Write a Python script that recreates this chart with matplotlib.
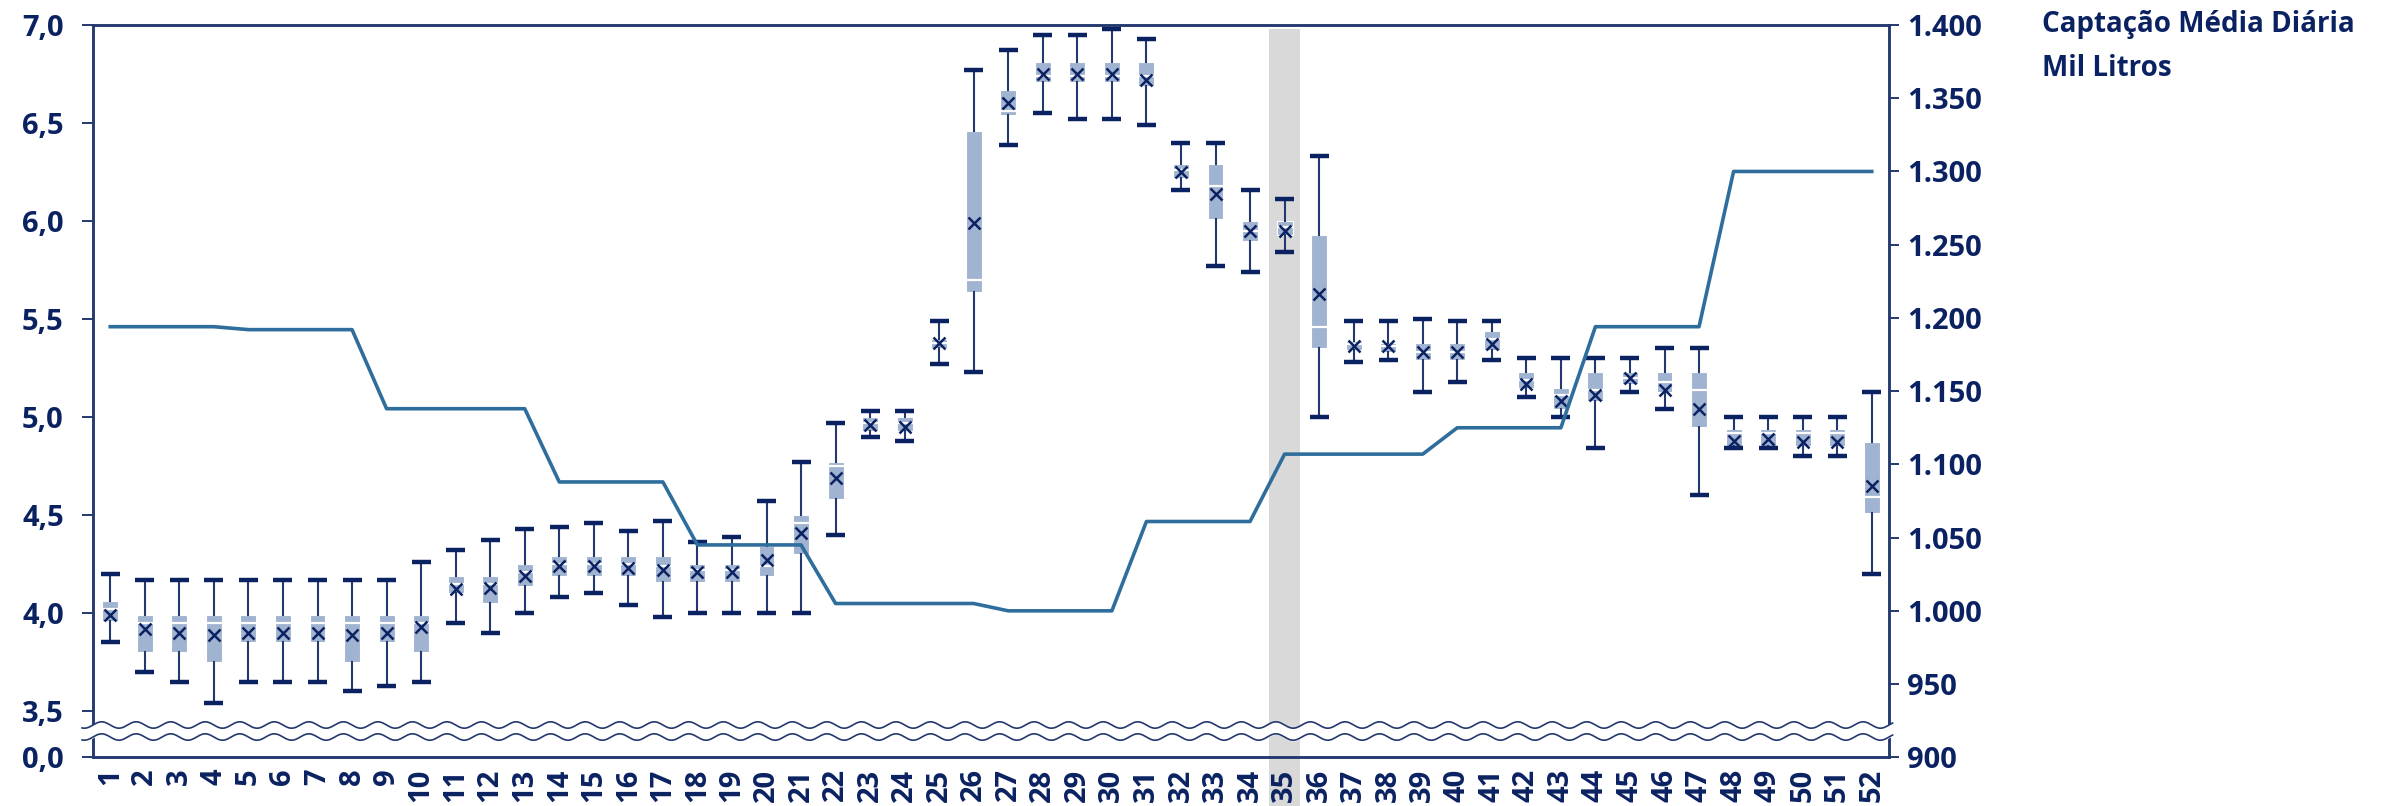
import matplotlib.pyplot as plt
from matplotlib.patches import Rectangle
from matplotlib.transforms import blended_transform_factory
import numpy as np

plt.rcParams['font.family'] = ['Open Sans', 'DejaVu Sans']

# semanas
semanas = list(range(1, 53))

# estatisticas das caixas (valores do eixo esquerdo)
minimo = [3.85, 3.70, 3.65, 3.54, 3.65, 3.65, 3.65, 3.60, 3.63, 3.65,
          3.95, 3.90, 4.00, 4.08, 4.10, 4.04, 3.98, 4.00, 4.00, 4.00,
          4.00, 4.40, 4.90, 4.88, 5.27, 5.23, 6.39, 6.55, 6.52, 6.52,
          6.49, 6.16, 5.77, 5.74, 5.84, 5.00, 5.28, 5.29, 5.13, 5.18,
          5.29, 5.10, 5.00, 4.84, 5.13, 5.04, 4.60, 4.84, 4.84, 4.80,
          4.80, 4.20]
quartil1 = [3.96, 3.80, 3.80, 3.75, 3.85, 3.85, 3.85, 3.75, 3.85, 3.80,
            4.10, 4.05, 4.14, 4.19, 4.19, 4.19, 4.16, 4.16, 4.16, 4.19,
            4.30, 4.58, 4.93, 4.93, 5.35, 5.64, 6.54, 6.71, 6.71, 6.71,
            6.69, 6.22, 6.01, 5.90, 5.93, 5.35, 5.34, 5.33, 5.29, 5.29,
            5.34, 5.15, 5.04, 5.08, 5.17, 5.13, 4.95, 4.85, 4.85, 4.85,
            4.85, 4.51]
mediana = [4.02, 3.95, 3.95, 3.95, 3.95, 3.95, 3.95, 3.95, 3.95, 3.95,
           4.15, 4.15, 4.21, 4.25, 4.25, 4.25, 4.24, 4.22, 4.22, 4.24,
           4.46, 4.75, 4.97, 4.97, 5.38, 5.70, 6.56, 6.74, 6.74, 6.74,
           6.74, 6.26, 6.18, 5.95, 5.97, 5.46, 5.37, 5.36, 5.33, 5.33,
           5.40, 5.19, 5.11, 5.14, 5.20, 5.18, 5.14, 4.92, 4.92, 4.92,
           4.92, 4.59]
quartil3 = [4.06, 3.99, 3.99, 3.99, 3.99, 3.99, 3.99, 3.99, 3.99, 3.99,
            4.19, 4.19, 4.25, 4.29, 4.29, 4.29, 4.29, 4.25, 4.25, 4.34,
            4.50, 4.77, 5.00, 5.00, 5.40, 6.46, 6.67, 6.81, 6.81, 6.81,
            6.81, 6.29, 6.29, 6.00, 6.00, 5.93, 5.39, 5.38, 5.38, 5.38,
            5.44, 5.23, 5.15, 5.23, 5.23, 5.23, 5.23, 4.94, 4.94, 4.94,
            4.94, 4.87]
maximo = [4.20, 4.17, 4.17, 4.17, 4.17, 4.17, 4.17, 4.17, 4.17, 4.26,
          4.32, 4.37, 4.43, 4.44, 4.46, 4.42, 4.47, 4.36, 4.39, 4.57,
          4.77, 4.97, 5.03, 5.03, 5.49, 6.77, 6.87, 6.95, 6.95, 6.98,
          6.93, 6.40, 6.40, 6.16, 6.11, 6.33, 5.49, 5.49, 5.50, 5.49,
          5.49, 5.30, 5.30, 5.30, 5.30, 5.35, 5.35, 5.00, 5.00, 5.00,
          5.00, 5.13]
media = [3.99, 3.92, 3.90, 3.89, 3.90, 3.90, 3.90, 3.89, 3.90, 3.93,
         4.12, 4.13, 4.19, 4.24, 4.24, 4.23, 4.22, 4.21, 4.21, 4.27,
         4.41, 4.69, 4.96, 4.95, 5.38, 5.99, 6.60, 6.75, 6.75, 6.75,
         6.72, 6.25, 6.14, 5.95, 5.95, 5.63, 5.36, 5.36, 5.33, 5.33,
         5.37, 5.17, 5.08, 5.11, 5.20, 5.14, 5.04, 4.88, 4.89, 4.87,
         4.87, 4.65]

# captacao media diaria (mil litros, eixo direito)
captacao = [1194, 1194, 1194, 1194, 1192, 1192, 1192, 1192, 1138, 1138,
            1138, 1138, 1138, 1088, 1088, 1088, 1088, 1045, 1045, 1045,
            1045, 1005, 1005, 1005, 1005, 1005, 1000, 1000, 1000, 1000,
            1061, 1061, 1061, 1061, 1107, 1107, 1107, 1107, 1107, 1125,
            1125, 1125, 1125, 1194, 1194, 1194, 1194, 1300, 1300, 1300,
            1300, 1300]

semana_destaque = 35

esq_ticks = [3.5, 4.0, 4.5, 5.0, 5.5, 6.0, 6.5, 7.0]
dir_ticks = list(range(900, 1401, 50))

azul_escuro = '#0b2262'
azul_eixo = '#23386f'
azul_caixa = '#a0b3d1'
azul_linha = '#2f6e9c'

fig = plt.figure(figsize=(23.96, 8.06), dpi=100)
ax = fig.add_axes([93 / 2396, 1 - 757.3 / 806, 1796 / 2396, 732.3 / 806])
ax2 = ax.twinx()

# eixo esquerdo quebrado: a base 0,0 fica logo abaixo de 3,5
base_esq = 7.0 - 732.3 / 196
ax.set_ylim(base_esq, 7.0)
ax.set_xlim(0.5, 52.5)
ax2.set_ylim(900, 1400)

# faixa cinza da semana atual
trans = blended_transform_factory(ax.transData, ax.transAxes)
ax.add_patch(Rectangle((semana_destaque - 0.445, -0.07), 0.89, 1.065, transform=trans,
                       facecolor='#d9d9d9', edgecolor='none', zorder=0, clip_on=False))

stats = []
for i in range(len(semanas)):
    stats.append({'whislo': minimo[i], 'q1': quartil1[i], 'med': mediana[i],
                  'q3': quartil3[i], 'whishi': maximo[i], 'mean': media[i],
                  'fliers': []})

ax.bxp(stats, positions=semanas, widths=0.46, capwidths=0.55,
       showmeans=True, patch_artist=True, manage_ticks=False,
       boxprops=dict(facecolor=azul_caixa, edgecolor='white', linewidth=0.8),
       medianprops=dict(color='white', linewidth=1.6),
       whiskerprops=dict(color=azul_eixo, linewidth=1.5),
       capprops=dict(color=azul_escuro, linewidth=3.2, solid_capstyle='butt'),
       meanprops=dict(marker='x', markeredgecolor=azul_escuro, markersize=8,
                      markeredgewidth=1.8),
       zorder=2)

ax2.plot(semanas, captacao, color=azul_linha, linewidth=2.6, zorder=3)

# marcas de quebra do eixo
xs = np.linspace(-0.0061, 1.002, 2000)
amp = 3.2 / 732.3
onda_sup = 0.0441 + amp * np.sin(2 * np.pi * 52 * xs)
onda_inf = 0.0277 + amp * np.sin(2 * np.pi * 52 * xs)
ax2.fill_between(xs, onda_inf, onda_sup, transform=ax2.transAxes, color='white',
                 zorder=5, clip_on=False)
ax2.plot(xs, onda_sup, transform=ax2.transAxes, color=azul_eixo, linewidth=1.2,
         zorder=6, clip_on=False)
ax2.plot(xs, onda_inf, transform=ax2.transAxes, color=azul_eixo, linewidth=1.2,
         zorder=6, clip_on=False)

for a in (ax, ax2):
    for s in a.spines.values():
        s.set_color(azul_eixo)
        s.set_linewidth(1.8)

ax.set_yticks([base_esq] + esq_ticks)
ax.set_yticklabels(['0,0'] + [f'{v:.1f}'.replace('.', ',') for v in esq_ticks])
ax.tick_params(axis='y', direction='out', length=8, width=1.4, color=azul_eixo,
               labelsize=21, labelcolor=azul_escuro, pad=13)

ax2.set_yticks(dir_ticks)
ax2.set_yticklabels([f'{v:,}'.replace(',', '.') for v in dir_ticks])
ax2.tick_params(axis='y', direction='out', length=7, width=1.4, color=azul_eixo,
                labelsize=21, labelcolor=azul_escuro, pad=6)

ax.set_xticks(semanas)
ax.set_xticklabels([str(s) for s in semanas], rotation=90)
ax.tick_params(axis='x', length=0, labelsize=21, labelcolor=azul_escuro, pad=8)

for lab in ax.get_xticklabels() + ax.get_yticklabels() + ax2.get_yticklabels():
    lab.set_fontweight('bold')

fig.text(2042 / 2396, 1 - 10 / 806, 'Captação Média Diária\nMil Litros', ha='left', va='top',
         fontsize=20, fontweight='bold', color=azul_escuro, linespacing=1.7)

fig.savefig('out.png', dpi=100)
